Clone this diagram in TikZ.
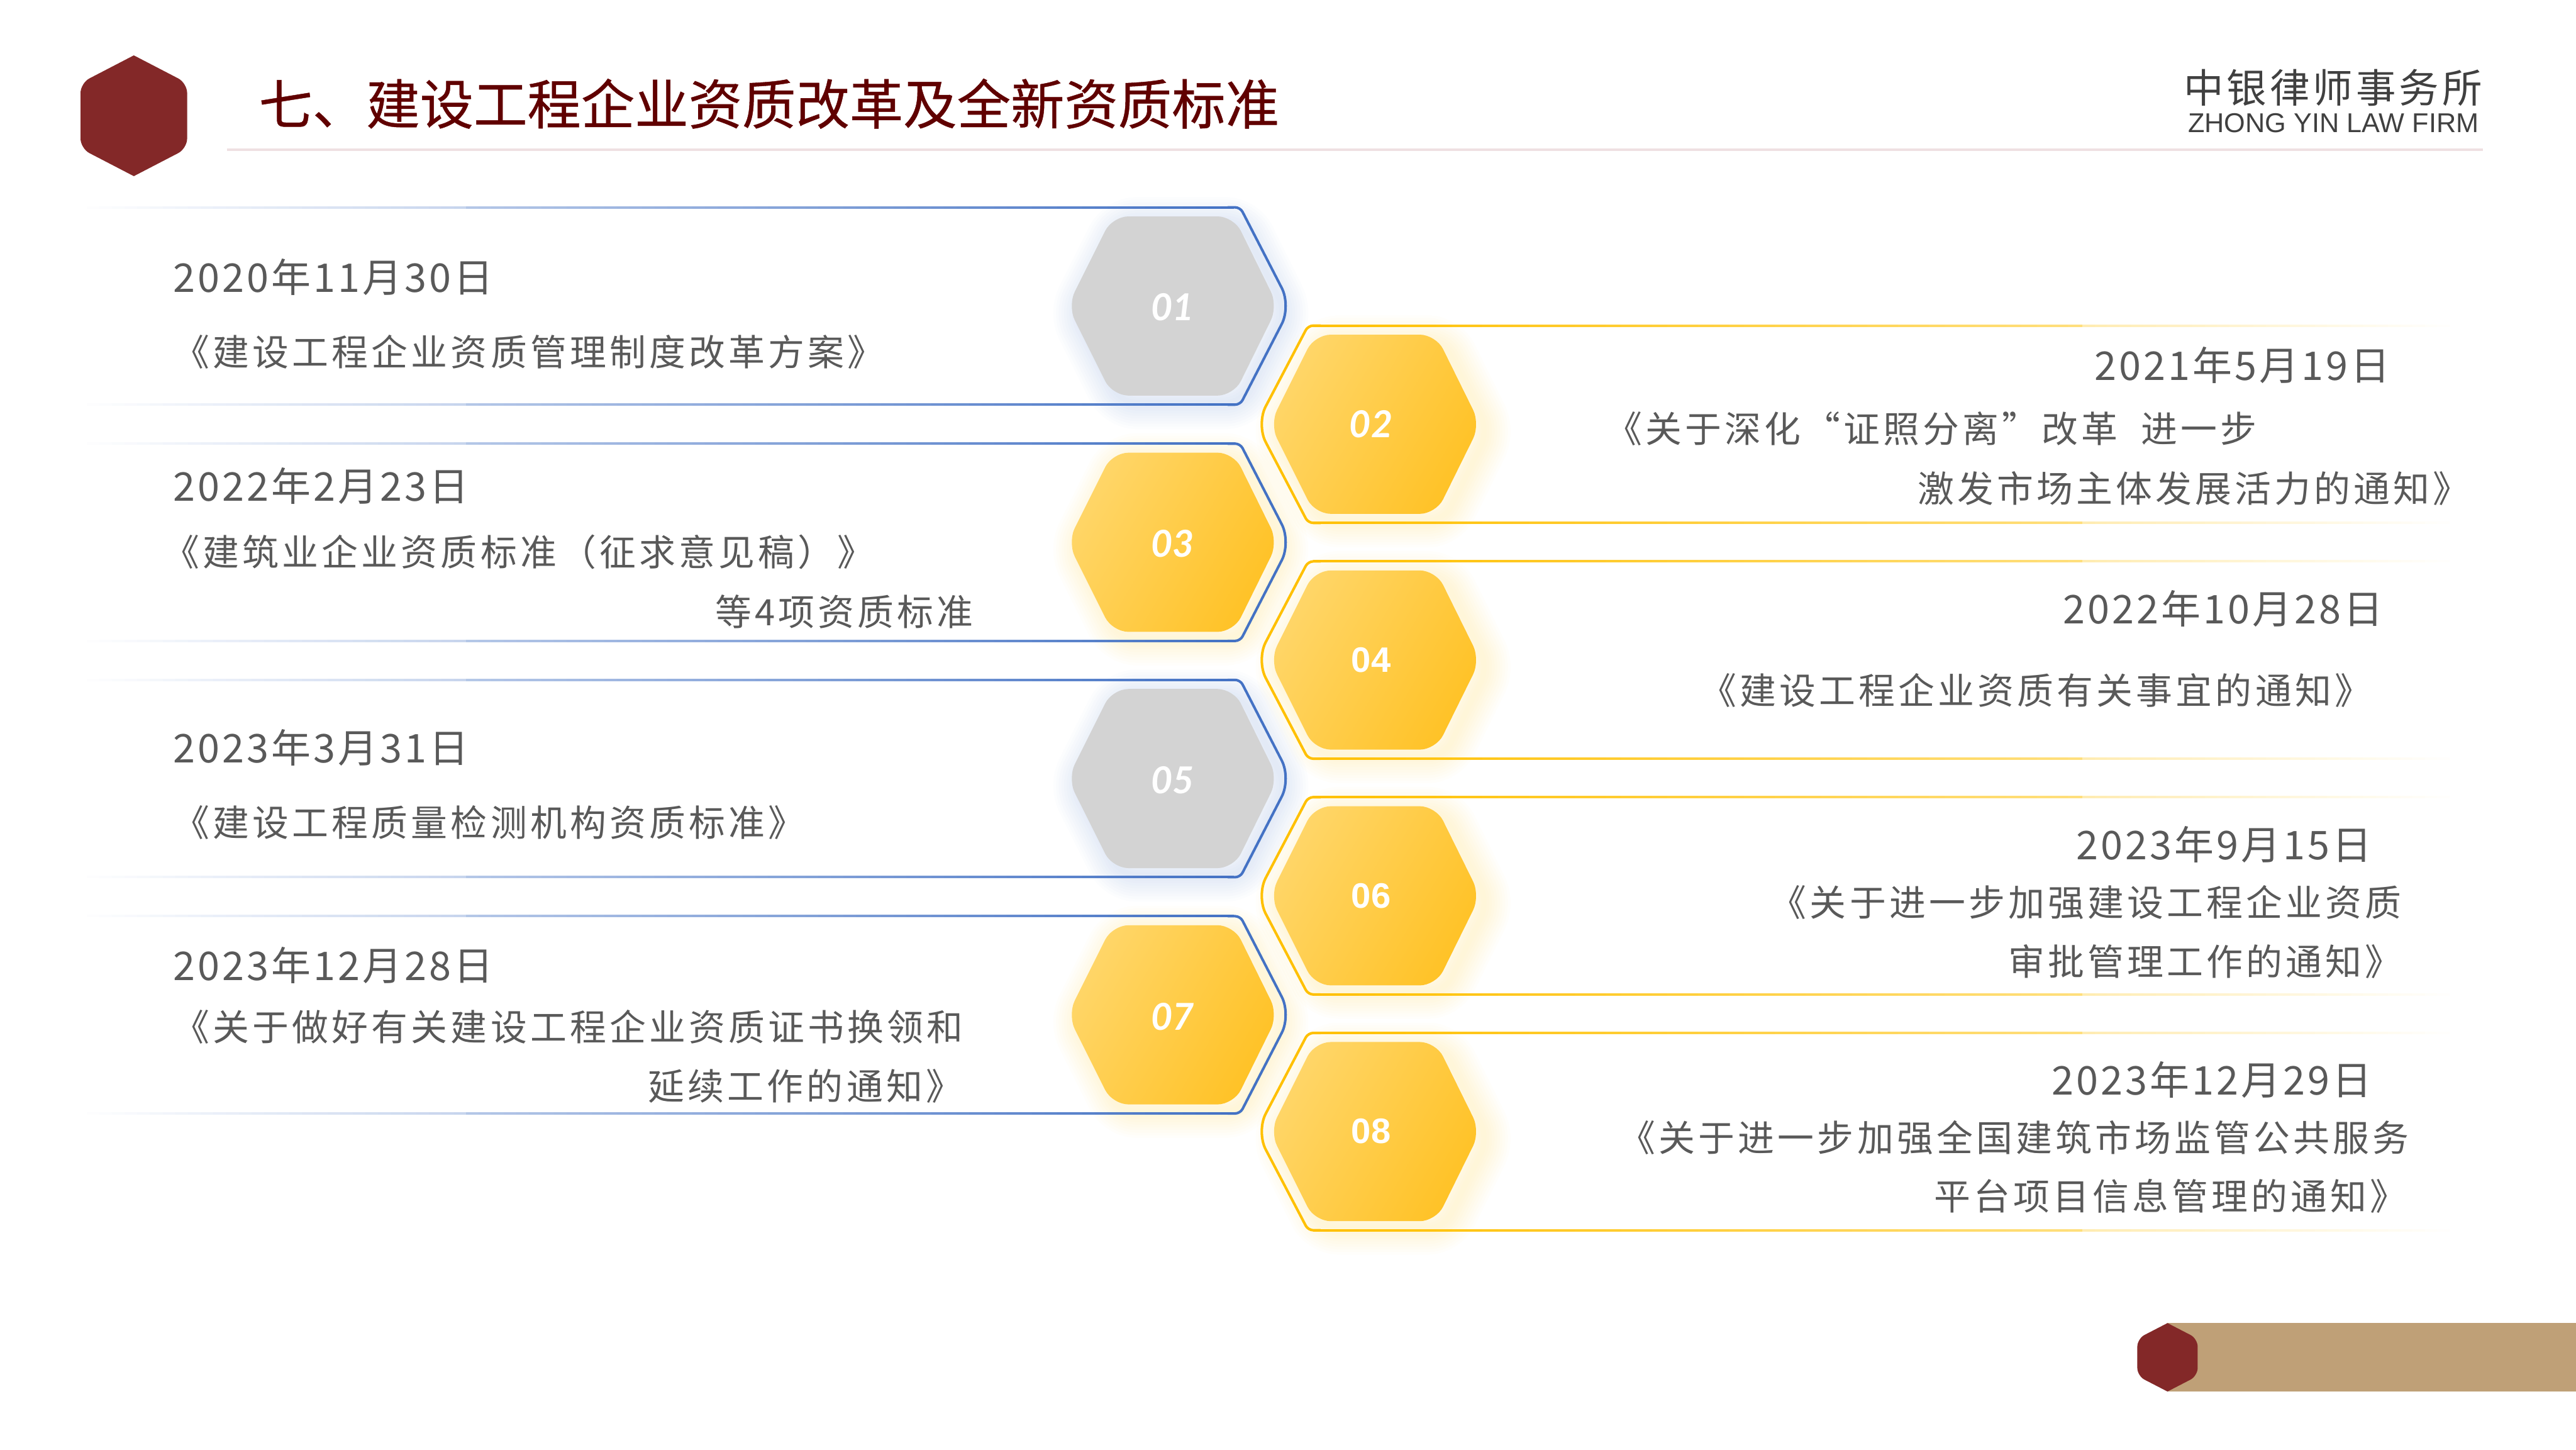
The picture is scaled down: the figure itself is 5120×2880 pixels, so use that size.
\documentclass[tikz,border=0pt]{standalone}
\usepackage{fontspec}
\usepackage{xcolor}
\setmainfont{Noto Sans CJK SC}
\newfontfamily\lawfont[LetterSpace=9]{Noto Sans CJK SC}
\newfontfamily\datefont[LetterSpace=6.5]{Noto Sans CJK SC}
\newfontfamily\logofont[LetterSpace=8]{Noto Sans CJK SC}
\newfontfamily\titlefont[FakeBold=0.5]{Noto Sans CJK SC}
\newfontfamily\latinfont{Liberation Sans}
\newfontfamily\numfont{Lato}
\definecolor{firmred}{RGB}{131,40,40}
\definecolor{titlered}{RGB}{96,0,0}
\definecolor{ruleline}{RGB}{239,224,226}
\definecolor{sandbar}{RGB}{191,160,119}
\definecolor{framblue}{RGB}{68,114,196}
\definecolor{framgold}{RGB}{255,192,0}
\definecolor{hexgrey}{RGB}{211,211,211}
\definecolor{goldlight}{RGB}{255,214,105}
\definecolor{golddark}{RGB}{255,194,38}
\definecolor{textgrey}{RGB}{89,89,89}
\newcommand{\hexoutline}{(-209,0) -- (-120,-178) -- (121,-178) -- (209,0) -- (121,178) -- (-120,178) -- cycle}
\tikzset{
	datelabel/.style={inner sep=0pt,text=textgrey,font=\datefont\fontsize{11.2}{13}\selectfont},
	lawlabel/.style={inner sep=0pt,text=textgrey,font=\lawfont\fontsize{10.3}{12}\selectfont},
	numlabel/.style={inner sep=0pt,text=white,font=\numfont\bfseries\itshape\fontsize{10.5}{12}\selectfont},
	numbold/.style={inner sep=0pt,text=white,font=\latinfont\bfseries\fontsize{10}{12}\selectfont},
	pics/hexglow/.style={code={
		\foreach \w in {1.5,3,...,15}{
			\draw[#1,line width=\w pt,opacity=0.016,rounded corners=0.16cm,shift={(16,14)}] \hexoutline;
		}
	}},
	pics/hexgrey/.style={code={
		\pic {hexglow=framblue};
		\fill[hexgrey,rounded corners=0.16cm] \hexoutline;
	}},
	pics/hexgold/.style={code={
		\pic {hexglow=framgold};
		\shade[left color=goldlight,right color=golddark,shading angle=60,rounded corners=0.16cm] \hexoutline;
	}},
	pics/leftframe/.style={code={
		\foreach \y in {-196,196}{
			\foreach \p [evaluate=\p as \xa using 172+25.2*(\p-1)] in {1,...,30}
				\draw[framblue!\p!white,line width=0.72pt] (\xa,\y) -- ++(26,0);
			\foreach \p [evaluate=\p as \xa using 926+25*(\p-40)] in {40,...,100}
				\draw[framblue!\p!white,line width=0.72pt] (\xa,\y) -- ++(26,0);
		}
		\draw[framblue,line width=0.72pt] (2440,-196) [rounded corners=0.05cm] -- (2465,-196) [rounded corners=0.2cm] -- (2566,0) [rounded corners=0.05cm] -- (2465,196) -- (2440,196);
	}},
	pics/rightframe/.style={code={
		\foreach \y in {-196,196}{
			\foreach \p [evaluate=\p as \xa using 2610+30.6*(100-\p)] in {100,99,...,50}
				\draw[framgold!\p!white,line width=0.72pt] (\xa,\y) -- ++(31,0);
			\foreach \p [evaluate=\p as \xa using 4139+24.3*(30-\p)] in {30,29,...,1}
				\draw[framgold!\p!white,line width=0.72pt] (\xa,\y) -- ++(25,0);
		}
		\draw[framgold,line width=0.72pt] (2625,-196) [rounded corners=0.05cm] -- (2600,-196) [rounded corners=0.2cm] -- (2497,0) [rounded corners=0.05cm] -- (2600,196) -- (2625,196);
	}},
}
\begin{document}
\begin{tikzpicture}[x=0.005cm,y=-0.005cm]
	\useasboundingbox (0,0) rectangle (5120,2880);
	% header
	\fill[firmred] (266,110) [rounded corners=0.1cm] -- (372,165) -- (372,295) [sharp corners] -- (266,350) [rounded corners=0.1cm] -- (160,295) -- (160,165) [sharp corners] -- cycle;
	\node[inner sep=0pt,anchor=west,text=titlered,font=\titlefont\fontsize{15.2}{17}\selectfont] (title) at (513,206) {七、建设工程企业资质改革及全新资质标准};
	\draw[ruleline,line width=0.7pt] (451,297) -- (4935,297);
	\node[inner sep=0pt,anchor=east,text=black!75,font=\logofont\fontsize{11.3}{13}\selectfont] (logocn) at (4935,174) {中银律师事务所};
	\node[inner sep=0pt,anchor=east,text=black!75,font=\latinfont\fontsize{7.7}{9}\selectfont] (logoen) at (4928,244) {ZHONG YIN LAW FIRM};
	% left column
	\pic at (2331,608) {hexgrey};
	\pic at (0,608) {leftframe};
	\node[numlabel] (num01) at (2331,610) {01};
	\node[datelabel,anchor=west] (date01) at (343,550) {2020年11月30日};
	\node[lawlabel,anchor=west] (law01) at (343,699) {《建设工程企业资质管理制度改革方案》};
	\pic at (2331,1077.5) {hexgold};
	\pic at (0,1077.5) {leftframe};
	\node[numlabel] (num03) at (2331,1080) {03};
	\node[datelabel,anchor=west] (date03) at (343,966) {2022年2月23日};
	\node[lawlabel,anchor=west] (law03a) at (323,1097) {《建筑业企业资质标准（征求意见稿）》};
	\node[lawlabel,anchor=west] (law03b) at (1420,1215) {等4项资质标准};
	\pic at (2331,1547) {hexgrey};
	\pic at (0,1547) {leftframe};
	\node[numlabel] (num05) at (2331,1550) {05};
	\node[datelabel,anchor=west] (date05) at (343,1486) {2023年3月31日};
	\node[lawlabel,anchor=west] (law05) at (343,1634) {《建设工程质量检测机构资质标准》};
	\pic at (2331,2016.5) {hexgold};
	\pic at (0,2016.5) {leftframe};
	\node[numlabel] (num07) at (2331,2020) {07};
	\node[datelabel,anchor=west] (date07) at (343,1918) {2023年12月28日};
	\node[lawlabel,anchor=west] (law07a) at (343,2041) {《关于做好有关建设工程企业资质证书换领和};
	\node[lawlabel,anchor=west] (law07b) at (1287,2158) {延续工作的通知》};
	% right column
	\pic at (2733,843) {hexgold};
	\pic at (0,843) {rightframe};
	\node[numlabel] (num02) at (2725,843) {02};
	\node[datelabel,anchor=east] (date02) at (4752,725) {2021年5月19日};
	\node[lawlabel,anchor=west] (law02a) at (3190,852) {《关于深化“证照分离”改革\ \ 进一步};
	\node[lawlabel,anchor=east] (law02b) at (4910,970) {激发市场主体发展活力的通知》};
	\pic at (2733,1311.5) {hexgold};
	\pic at (0,1311.5) {rightframe};
	\node[numbold] (num04) at (2725,1312) {04};
	\node[datelabel,anchor=east] (date04) at (4738,1209) {2022年10月28日};
	\node[lawlabel,anchor=east] (law04) at (4714,1372) {《建设工程企业资质有关事宜的通知》};
	\pic at (2733,1780) {hexgold};
	\pic at (0,1780) {rightframe};
	\node[numbold] (num06) at (2725,1780) {06};
	\node[datelabel,anchor=east] (date06) at (4716,1678) {2023年9月15日};
	\node[lawlabel,anchor=east] (law06a) at (4775,1793) {《关于进一步加强建设工程企业资质};
	\node[lawlabel,anchor=east] (law06b) at (4775,1910) {审批管理工作的通知》};
	\pic at (2733,2248.5) {hexgold};
	\pic at (0,2248.5) {rightframe};
	\node[numbold] (num08) at (2725,2248) {08};
	\node[datelabel,anchor=east] (date08) at (4716,2145) {2023年12月29日};
	\node[lawlabel,anchor=east] (law08a) at (4790,2260) {《关于进一步加强全国建筑市场监管公共服务};
	\node[lawlabel,anchor=east] (law08b) at (4785,2377) {平台项目信息管理的通知》};
	% footer
	\fill[sandbar] (4308,2629) rectangle (5120,2765);
	\fill[firmred] (4308,2629) [rounded corners=0.08cm] -- (4368,2660) -- (4368,2734) [sharp corners] -- (4308,2765) [rounded corners=0.08cm] -- (4248,2734) -- (4248,2660) [sharp corners] -- cycle;
\end{tikzpicture}
\end{document}
